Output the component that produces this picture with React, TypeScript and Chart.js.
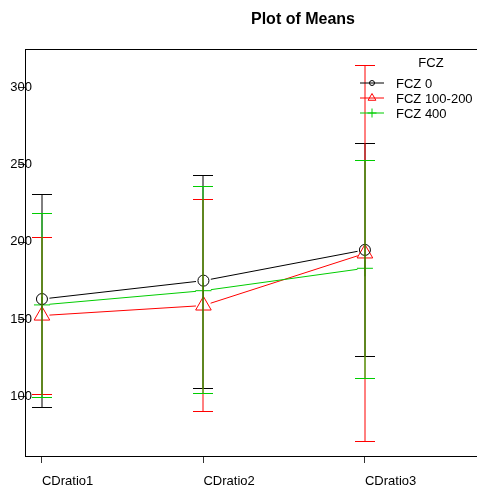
import React, { useEffect, useRef } from 'react';
import { Chart, registerables } from 'chart.js';
Chart.register(...registerables);

// ---- data ----
const categories = ['CDratio1', 'CDratio2', 'CDratio3'];
const seriesNames = ['FCZ 0', 'FCZ 100-200', 'FCZ 400'];
const legendTitle = 'FCZ';
const chartTitle = 'Plot of Means';

const meansFCZ0 = [163.2, 175.1, 195.0];
const lowerFCZ0 = [93.5, 105.8, 126.3];
const upperFCZ0 = [231.4, 243.5, 264.4];

const meansFCZ100 = [152.5, 159.0, 192.7];
const lowerFCZ100 = [101.6, 90.7, 71.3];
const upperFCZ100 = [203.4, 228.2, 314.6];

const meansFCZ400 = [159.4, 168.6, 183.1];
const lowerFCZ400 = [99.6, 102.2, 111.9];
const upperFCZ400 = [218.7, 236.4, 253.2];

const yTicks = [100, 150, 200, 250, 300];
const yMin = 61.6;
const yMax = 324.4;
const xMin = -0.105;
const xMax = 2.694;

// ---- styles ----
const FONT = "'Liberation Sans', Arial, sans-serif";
const colors = ['#000000', '#FF0000', '#00CD00'];
const pointStyles = ['circle', 'triangle', 'cross'];
const pointRadii = [5.5, 9, 8];
const legendRadii = [2.5, 4.5, 4.5];
const LINE_GAP = 7.5;
const means = [meansFCZ0, meansFCZ100, meansFCZ400];
const lowers = [lowerFCZ0, lowerFCZ100, lowerFCZ400];
const uppers = [upperFCZ0, upperFCZ100, upperFCZ400];

// connecting lines with a small gap at each marker (like R type="b")
const gapLinePlugin = {
  id: 'gapLines',
  beforeDatasetsDraw(chart: any) {
    const ctx = chart.ctx as CanvasRenderingContext2D;
    const xs = chart.scales.x;
    const ys = chart.scales.y;
    ctx.save();
    ctx.lineWidth = 1;
    for (let s = 0; s < means.length; s++) {
      ctx.strokeStyle = colors[s];
      ctx.beginPath();
      for (let i = 0; i < categories.length - 1; i++) {
        const x1 = xs.getPixelForValue(i);
        const y1 = ys.getPixelForValue(means[s][i]);
        const x2 = xs.getPixelForValue(i + 1);
        const y2 = ys.getPixelForValue(means[s][i + 1]);
        const len = Math.hypot(x2 - x1, y2 - y1);
        const ux = (x2 - x1) / len;
        const uy = (y2 - y1) / len;
        ctx.moveTo(x1 + ux * LINE_GAP, y1 + uy * LINE_GAP);
        ctx.lineTo(x2 - ux * LINE_GAP, y2 - uy * LINE_GAP);
      }
      ctx.stroke();
    }
    ctx.restore();
  },
};

const errorBarPlugin = {
  id: 'errorBars',
  afterDatasetsDraw(chart: any) {
    const ctx = chart.ctx as CanvasRenderingContext2D;
    const xs = chart.scales.x;
    const ys = chart.scales.y;
    ctx.save();
    ctx.lineWidth = 1;
    for (let s = 0; s < means.length; s++) {
      ctx.strokeStyle = colors[s];
      for (let i = 0; i < categories.length; i++) {
        const x = Math.round(xs.getPixelForValue(i));
        const yl = Math.round(ys.getPixelForValue(lowers[s][i])) + 0.5;
        const yh = Math.round(ys.getPixelForValue(uppers[s][i])) + 0.5;
        ctx.beginPath();
        ctx.moveTo(x, yh);
        ctx.lineTo(x, yl);
        ctx.stroke();
        ctx.beginPath();
        ctx.moveTo(x - 10, yh);
        ctx.lineTo(x + 10, yh);
        ctx.moveTo(x - 10, yl);
        ctx.lineTo(x + 10, yl);
        ctx.stroke();
      }
    }
    ctx.restore();
  },
};

function drawMarker(ctx: CanvasRenderingContext2D, style: string, x: number, y: number, r: number) {
  ctx.beginPath();
  if (style === 'circle') {
    ctx.arc(x, y, r, 0, Math.PI * 2);
  } else if (style === 'triangle') {
    ctx.moveTo(x, y - r);
    ctx.lineTo(x + r * Math.sin((2 * Math.PI) / 3), y - r * Math.cos((2 * Math.PI) / 3));
    ctx.lineTo(x + r * Math.sin((4 * Math.PI) / 3), y - r * Math.cos((4 * Math.PI) / 3));
    ctx.closePath();
  } else {
    ctx.moveTo(x - r, y);
    ctx.lineTo(x + r, y);
    ctx.moveTo(x, y - r);
    ctx.lineTo(x, y + r);
  }
  ctx.stroke();
}

const decorPlugin = {
  id: 'decor',
  afterDraw(chart: any) {
    const ctx = chart.ctx as CanvasRenderingContext2D;
    const area = chart.chartArea;
    const ys = chart.scales.y;
    ctx.save();
    // top border of the box
    ctx.strokeStyle = '#000';
    ctx.lineWidth = 1;
    ctx.beginPath();
    ctx.moveTo(area.left, Math.round(area.top) - 0.5);
    ctx.lineTo(chart.width, Math.round(area.top) - 0.5);
    ctx.stroke();

    // y tick labels (overlapping the axis, as in the reference)
    ctx.fillStyle = '#000';
    ctx.font = `13px ${FONT}`;
    ctx.textAlign = 'right';
    ctx.textBaseline = 'middle';
    for (const v of yTicks) {
      ctx.fillText(String(v), 32, ys.getPixelForValue(v) - 0.5);
    }

    // title
    ctx.font = `bold 16px ${FONT}`;
    ctx.textAlign = 'center';
    ctx.textBaseline = 'alphabetic';
    ctx.fillText(chartTitle, 303, 23.5);

    // legend
    ctx.font = `13px ${FONT}`;
    ctx.fillText(legendTitle, 431, 67);
    ctx.textAlign = 'left';
    for (let s = 0; s < seriesNames.length; s++) {
      const yText = 87.5 + s * 15;
      const yMid = yText - 4.5;
      ctx.strokeStyle = colors[s];
      ctx.fillStyle = '#000';
      ctx.lineWidth = 1;
      ctx.beginPath();
      ctx.moveTo(360, yMid);
      ctx.lineTo(384, yMid);
      ctx.stroke();
      drawMarker(ctx, pointStyles[s], 372, yMid, legendRadii[s]);
      ctx.fillText(seriesNames[s], 396, yText);
    }
    ctx.restore();
  },
};

export default function App() {
  const canvasRef = useRef<HTMLCanvasElement | null>(null);

  useEffect(() => {
    document.body.style.margin = '0';
    const canvas = canvasRef.current;
    if (!canvas) return;
    const chart = new Chart(canvas, {
      type: 'line',
      data: {
        datasets: means.map((m, s) => ({
          label: seriesNames[s],
          data: m.map((y, i) => ({ x: i, y })),
          showLine: false,
          borderColor: colors[s],
          borderWidth: 1,
          pointStyle: pointStyles[s] as any,
          pointRadius: pointRadii[s],
          pointBorderColor: colors[s],
          pointBackgroundColor: 'rgba(0,0,0,0)',
          pointBorderWidth: 1,
          tension: 0,
          fill: false,
        })),
      },
      options: {
        responsive: false,
        animation: false,
        devicePixelRatio: 1,
        events: [],
        layout: { autoPadding: false, padding: { top: 50, left: 0, right: 0, bottom: 0 } },
        plugins: {
          legend: { display: false },
          tooltip: { enabled: false },
          title: { display: false },
        },
        scales: {
          x: {
            type: 'linear',
            min: xMin,
            max: xMax,
            afterBuildTicks: (scale: any) => {
              scale.ticks = categories.map((_, i) => ({ value: i }));
            },
            afterFit: (scale: any) => {
              scale.height = 33;
              scale.paddingLeft = 0;
              scale.paddingRight = 0;
            },
            grid: {
              display: true,
              drawOnChartArea: false,
              drawTicks: true,
              tickLength: 7,
              color: '#333',
            },
            border: { display: true, color: '#000', width: 1 },
            ticks: {
              align: 'start',
              maxRotation: 0,
              autoSkip: false,
              padding: 11,
              color: '#000',
              font: { family: FONT, size: 13 },
              callback: (v: any) => categories[Math.round(Number(v))] ?? '',
            },
          },
          y: {
            type: 'linear',
            min: yMin,
            max: yMax,
            afterBuildTicks: (scale: any) => {
              scale.ticks = yTicks.map((v) => ({ value: v }));
            },
            afterFit: (scale: any) => {
              scale.width = 25;
              scale.paddingTop = 0;
              scale.paddingBottom = 0;
            },
            grid: {
              display: true,
              drawOnChartArea: false,
              drawTicks: true,
              tickLength: 7,
              color: '#333',
            },
            border: { display: true, color: '#000', width: 1 },
            ticks: { display: false },
          },
        },
      },
      plugins: [gapLinePlugin, errorBarPlugin, decorPlugin],
    });
    return () => chart.destroy();
  }, []);

  return (
    <div style={{ width: 477, height: 489 }}>
      <canvas ref={canvasRef} width={477} height={489} style={{ display: 'block' }} />
    </div>
  );
}
